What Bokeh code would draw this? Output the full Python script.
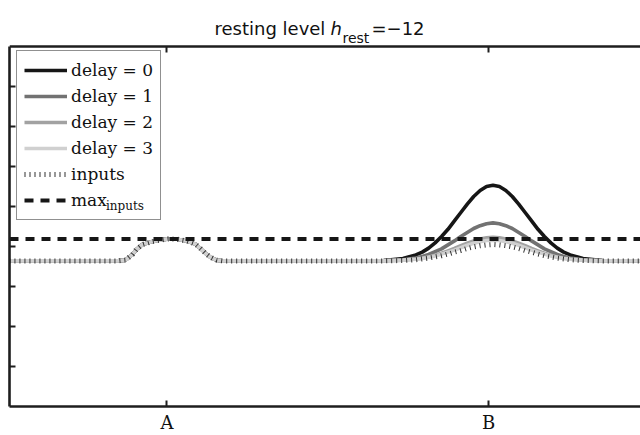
from bokeh.plotting import figure
from bokeh.models import Range1d, LinearAxis, FixedTicker, Legend, LegendItem
from bokeh.embed import file_html
from bokeh.resources import INLINE
from bokeh.core.properties import value

# ---------------- data ----------------
# positions along the field (A at 25, B at 75)
x_a = [0.5, 17.3, 18.55, 19.63, 20.26, 21.19, 22.43, 23.83, 25.23, 26.63, 28.03,
       29.43, 30.21, 30.99, 31.77, 32.70, 33.63]
x_b = [58.7, 61.7, 63.7, 64.7, 65.7, 66.7, 67.7, 68.7, 69.7, 70.7, 71.7, 72.7, 73.7,
       74.7, 75.7, 76.7, 77.7, 78.7, 79.7, 80.7, 81.7, 82.7, 83.7, 84.7, 85.7, 86.7,
       87.7, 89.7, 92.7, 98.7]

# around A all curves coincide with the inputs
bump_a = [3.64, 3.64, 3.66, 3.80, 3.93, 4.05, 4.11, 4.16, 4.19, 4.18, 4.14,
          4.06, 3.95, 3.83, 3.73, 3.66, 3.64]

delay0_b = [3.65, 3.70, 3.79, 3.86, 3.96, 4.09, 4.25, 4.43, 4.64, 4.85, 5.06, 5.25, 5.40,
            5.50, 5.53, 5.50, 5.40, 5.25, 5.06, 4.85, 4.64, 4.43, 4.25, 4.09, 3.96, 3.86,
            3.79, 3.70, 3.65, 3.64]
delay1_b = [3.65, 3.67, 3.71, 3.75, 3.80, 3.87, 3.94, 4.04, 4.14, 4.25, 4.35, 4.45, 4.52,
            4.57, 4.59, 4.57, 4.52, 4.45, 4.35, 4.25, 4.14, 4.04, 3.94, 3.87, 3.80, 3.75,
            3.71, 3.67, 3.65, 3.64]
delay2_b = [3.64, 3.66, 3.69, 3.71, 3.74, 3.78, 3.83, 3.89, 3.95, 4.02, 4.08, 4.14, 4.19,
            4.22, 4.23, 4.22, 4.19, 4.14, 4.08, 4.02, 3.95, 3.89, 3.83, 3.78, 3.74, 3.71,
            3.69, 3.66, 3.64, 3.64]
delay3_b = [3.64, 3.66, 3.68, 3.70, 3.73, 3.76, 3.81, 3.86, 3.91, 3.97, 4.03, 4.08, 4.12,
            4.15, 4.16, 4.15, 4.12, 4.08, 4.03, 3.97, 3.91, 3.86, 3.81, 3.76, 3.73, 3.70,
            3.68, 3.66, 3.64, 3.64]
inputs_b = [3.64, 3.65, 3.67, 3.69, 3.71, 3.74, 3.77, 3.81, 3.86, 3.90, 3.95, 3.99, 4.02,
            4.04, 4.05, 4.04, 4.02, 3.99, 3.95, 3.90, 3.86, 3.81, 3.77, 3.74, 3.71, 3.69,
            3.67, 3.65, 3.64, 3.64]

x_pos = x_a + x_b
delay0 = bump_a + delay0_b
delay1 = bump_a + delay1_b
delay2 = bump_a + delay2_b
delay3 = bump_a + delay3_b
inputs = bump_a + inputs_b

series_labels = ["delay = 0", "delay = 1", "delay = 2", "delay = 3", "inputs", "max"]
max_subscript = "inputs"
x_ticks = [25, 75]
x_tick_labels = ["A", "B"]
y_ticks = [1, 2, 3, 4, 5, 6, 7, 8]

X0, X1 = 0.51, 98.64          # data extent of the axes box
Y0, Y_TOP = 0, 9              # axes box (bottom / top border)
Y1 = Y_TOP + 46 / 40.0        # room for the title inside the canvas

# ---------------- figure ----------------
p = figure(width=640, height=435, output_backend="svg", toolbar_location=None,
           x_range=Range1d(X0, X1), y_range=Range1d(Y0, Y1),
           min_border_left=9, min_border_right=0, min_border_top=0, min_border_bottom=29)
p.outline_line_color = None
p.xgrid.visible = False
p.ygrid.visible = False
p.background_fill_color = "white"
p.border_fill_color = "white"

AX = "#1e1e1e"

def style_axis(ax, ticks):
    ax.ticker = FixedTicker(ticks=ticks)
    ax.major_tick_in = 6
    ax.major_tick_out = 0
    ax.minor_tick_line_color = None
    ax.axis_line_width = 2.6
    ax.axis_line_color = AX
    ax.major_tick_line_width = 2
    ax.major_tick_line_color = AX

def hide_labels(ax):
    ax.major_label_text_font_size = "0px"
    ax.major_label_text_color = None
    ax.major_label_standoff = 0

xb = p.xaxis[0]
style_axis(xb, x_ticks)
xb.major_label_overrides = {t: l for t, l in zip(x_ticks, x_tick_labels)}
xb.major_label_text_font = "DejaVu Serif"
xb.major_label_text_font_size = "18px"
xb.major_label_text_color = "#111111"
xb.major_label_standoff = 5

yl = p.yaxis[0]
style_axis(yl, y_ticks)
yl.bounds = (Y0, Y_TOP)
hide_labels(yl)

xt = LinearAxis(fixed_location=Y_TOP)
style_axis(xt, x_ticks)
hide_labels(xt)
p.add_layout(xt, "above")

# ---------------- curves ----------------
r0 = p.line(x_pos, delay0, line_color="#161616", line_width=3.6)
r1 = p.line(x_pos, delay1, line_color="#727272", line_width=3.6)
r2 = p.line(x_pos, delay2, line_color="#a2a2a2", line_width=3.6)
r3 = p.line(x_pos, delay3, line_color="#d0d0d0", line_width=3.6)
ri = p.line(x_pos, inputs, line_color="#333333", line_width=5, line_dash="1 4")
max_in = max(inputs)
rm = p.line([X0, X1], [max_in, max_in], line_color="#161616", line_width=4, line_dash="9 7")

legend = Legend(items=[LegendItem(label=l, renderers=[r]) for l, r in
                       zip(series_labels, [r0, r1, r2, r3, ri, rm])],
                location=(7, 186))
legend.label_text_font = "DejaVu Serif"
legend.label_text_font_size = "17px"
legend.label_text_color = "#111111"
legend.border_line_color = "#222222"
legend.border_line_width = 1
legend.background_fill_color = "white"
legend.background_fill_alpha = 1
legend.padding = 7
legend.spacing = 2
legend.margin = 0
legend.glyph_width = 43
legend.glyph_height = 24
legend.label_height = 24
legend.label_standoff = 4
p.add_layout(legend, "center")

# subscript of the last legend entry: a second, transparent legend on top
blank = p.line(x=[], y=[], line_alpha=0)
sub_legend = Legend(items=[LegendItem(label=max_subscript, renderers=[blank])],
                    location=(96, 193))
sub_legend.label_text_font = "DejaVu Serif"
sub_legend.label_text_font_size = "12px"
sub_legend.label_text_color = "#111111"
sub_legend.border_line_color = None
sub_legend.background_fill_alpha = 0
sub_legend.padding = 0
sub_legend.spacing = 0
sub_legend.margin = 0
sub_legend.glyph_width = 1
sub_legend.glyph_height = 14
sub_legend.label_height = 14
sub_legend.label_standoff = 0
p.add_layout(sub_legend, "center")

# ---------------- title text (page-pixel placement helpers) ----------------
def px2x(px):
    return 25 + (px - 166.5) / 6.43

def py2y(py):
    return Y1 - py / 40.0

def add_text(txt, px, py, size, font="DejaVu Sans", style="normal"):
    p.text(x=[px2x(px)], y=[py2y(py)], text=[txt], text_font=value(font),
           text_font_size=size, text_font_style=style, text_color="#111111",
           text_baseline="alphabetic", text_align="left")

# title: resting level h_rest = -12
add_text("resting level", 214, 28, "18px")
add_text("h", 330, 28, "18px", style="italic")
add_text("rest", 342, 37, "14px")
add_text("=\u221212", 371, 28, "18px")

open("out.html", "w").write(file_html(p, INLINE))
